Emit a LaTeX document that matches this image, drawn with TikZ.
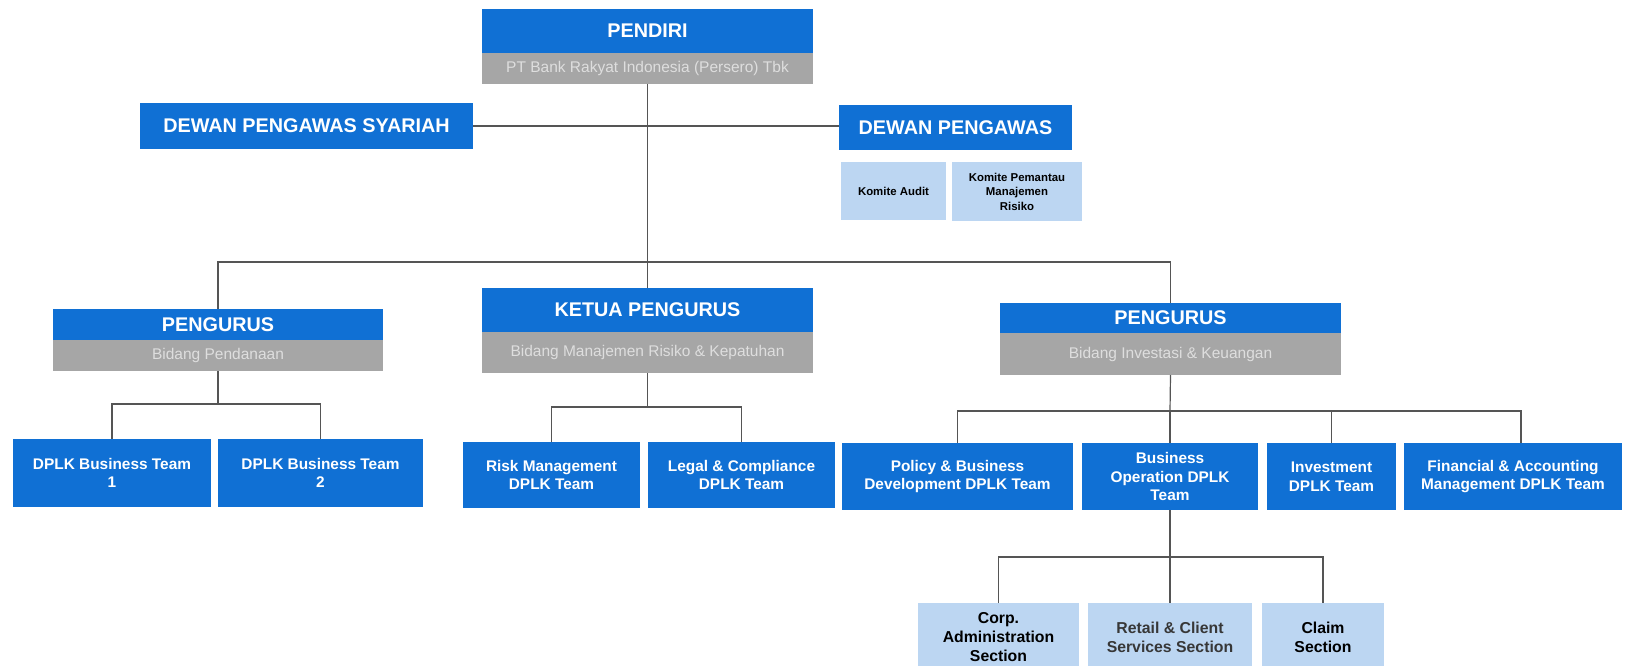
\documentclass[tikz,border=0pt]{standalone}
\usepackage{fontspec}
\setmainfont{Liberation Sans}
\definecolor{bblue}{RGB}{16,112,212}
\definecolor{bgrey}{RGB}{166,166,166}
\definecolor{lblue}{RGB}{188,214,242}
\definecolor{lgrey}{RGB}{222,222,222}
\definecolor{lnc}{RGB}{85,85,85}
\definecolor{dgrey}{RGB}{55,55,55}
\tikzset{
 box/.style={inner sep=0pt, outer sep=0pt, align=center},
 head/.style={box, fill=bblue, text=white, font=\bfseries\fontsize{19.8}{22}\selectfont},
 subbox/.style={box, fill=bgrey, text=lgrey, font=\fontsize{15.5}{18}\selectfont},
 team/.style={box, fill=bblue, text=white, font=\bfseries\fontsize{15.4}{18.7}\selectfont},
 sect/.style={box, fill=lblue, text=black, font=\bfseries\fontsize{15.8}{19}\selectfont},
 kom/.style={box, fill=lblue, text=black, font=\bfseries\fontsize{11.4}{14.5}\selectfont},
 conn/.style={draw=lnc, line width=1.2pt},
}
\newcommand\boxat[7]{\node[#2, minimum width={#5-#3}, minimum height={#6-#4}] (#1) at ({(#3+#5)/2},{(#4+#6)/2}) {#7};}
\begin{document}
\begin{tikzpicture}[x=1pt,y=-1pt]
\clip (0,0) rectangle (1625,666);
\fill[white] (0,0) rectangle (1625,666);
% top
\boxat{pend}{head}{482}{9}{813}{53}{PENDIRI}
\boxat{pendsub}{subbox}{482}{53}{813}{84}{PT Bank Rakyat Indonesia (Persero) Tbk}
\boxat{dps}{head}{140}{103}{473}{149}{DEWAN PENGAWAS SYARIAH}
\boxat{dp}{head}{839}{105}{1072}{150}{DEWAN PENGAWAS}
\boxat{ka}{kom}{841}{162}{946}{220}{Komite Audit}
\boxat{kp}{kom}{952}{162}{1082}{221}{Komite Pemantau\\Manajemen\\Risiko}
% second level
\boxat{pl}{head}{53}{309}{383}{340}{PENGURUS}
\boxat{plsub}{subbox}{53}{340}{383}{371}{Bidang Pendanaan}
\boxat{kt}{head}{482}{288}{813}{332}{KETUA PENGURUS}
\boxat{ktsub}{subbox}{482}{332}{813}{373}{Bidang Manajemen Risiko \& Kepatuhan}
\boxat{pr}{head}{1000}{303}{1341}{333}{PENGURUS}
\boxat{prsub}{subbox}{1000}{333}{1341}{375}{Bidang Investasi \& Keuangan}
% teams
\boxat{t1}{team}{13}{439}{211}{507}{DPLK Business Team\\1}
\boxat{t2}{team}{218}{439}{423}{507}{DPLK Business Team\\2}
\boxat{t3}{team}{463}{442}{640}{508}{Risk Management\\DPLK Team}
\boxat{t4}{team}{648}{442}{835}{508}{Legal \& Compliance\\DPLK Team}
\boxat{t5}{team}{842}{443}{1073}{510}{Policy \& Business\\Development DPLK Team}
\boxat{t6}{team}{1082}{443}{1258}{510}{Business\\Operation DPLK\\Team}
\boxat{t7}{team}{1267}{443}{1396}{510}{Investment\\DPLK Team}
\boxat{t8}{team}{1404}{443}{1622}{510}{Financial \& Accounting\\Management DPLK Team}
% sections
\boxat{s1}{sect}{918}{603}{1079}{672}{Corp.\\Administration\\Section}
\boxat{s2}{sect, text=dgrey}{1088}{603}{1252}{672}{Retail \& Client\\Services Section}
\boxat{s3}{sect}{1262}{603}{1384}{672}{Claim\\Section}
% connectors
\coordinate (bar1) at (647.5,262);
\coordinate (bar2) at (218,404);
\coordinate (bar3) at (647.5,407);
\coordinate (bar4) at (1170,411);
\coordinate (bar5) at (1170,557);
\draw[conn] (pendsub.south) -- (kt.north);
\draw[conn] (dps.east) -- (dps.east -| dp.west);
\draw[conn] (pl.north) |- (bar1) -| (pr.north);
\draw[conn] (plsub.south) -- (bar2);
\draw[conn] (t1.north) |- (bar2) -| (t2.north);
\draw[conn] (ktsub.south) -- (bar3);
\draw[conn] (t3.north) |- (bar3) -| (t4.north);
\draw[conn] (prsub.south) -- (bar4);
\draw[conn] (t5.north) |- (bar4) -| ([xshift=8pt]t8.north);
\draw[conn] (bar4) -- (t6.north);
\draw[conn] (bar4 -| t7.north) -- (t7.north);
\draw[conn] (t6.south) -- (bar5);
\draw[conn] (s1.north) |- (bar5) -| (s3.north);
\draw[conn] (bar5) -- (s2.north);
\end{tikzpicture}
\end{document}
